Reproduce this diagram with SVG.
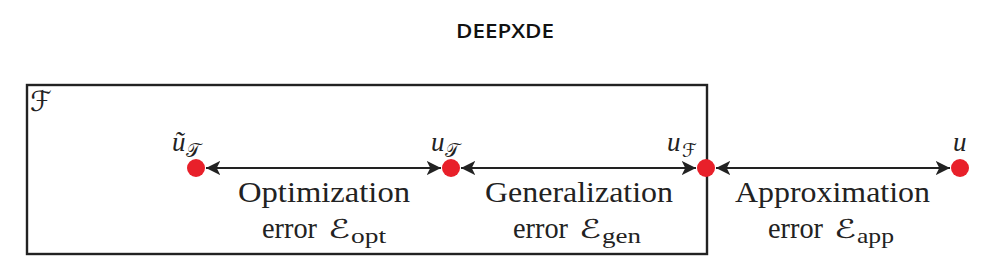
<svg xmlns="http://www.w3.org/2000/svg" width="1002" height="267" viewBox="0 0 1002 267">
<style>
.dot{fill:#e8202a}
.c{stroke:#222;stroke-width:2.2;fill:none;marker-start:url(#ah);marker-end:url(#ah)}
</style>
<defs>
<marker id="ah" viewBox="0 0 10 10" refX="10" refY="5" markerWidth="6.5" markerHeight="6.5" markerUnits="strokeWidth" orient="auto-start-reverse">
<path d="M0,0 L10,5 L0,10 L2.5,5 Z" fill="#222"/>
</marker>
</defs>
<rect width="1002" height="267" fill="#fff"/>
<text x="505" y="38" font-family="Open Sans" font-size="20" font-weight="600" fill="#111" textLength="98" lengthAdjust="spacingAndGlyphs" text-anchor="middle">DEEPXDE</text>
<g id="F">
<rect x="27" y="85" width="680" height="169" fill="none" stroke="#222" stroke-width="2.4"/>
<text x="30" y="111" font-family="DejaVu Sans" font-size="28" fill="#222">ℱ</text>
</g>
<g id="connectors">
<line class="c" x1="206" y1="168" x2="441" y2="168"/>
<line class="c" x1="461" y1="168" x2="696" y2="168"/>
<line class="c" x1="716" y1="168" x2="950" y2="168"/>
</g>
<g id="u_tilde_T" fill="#222">
<circle class="dot" cx="196" cy="168" r="9"/>
<text x="172" y="151" font-family="Liberation Serif" font-style="italic" font-size="27">ũ</text>
<text x="186" y="157" font-family="DejaVu Sans" font-size="19">𝒯</text>
</g>
<g id="u_T" fill="#222">
<circle class="dot" cx="451" cy="168" r="9"/>
<text x="431" y="151" font-family="Liberation Serif" font-style="italic" font-size="27">u</text>
<text x="445" y="157" font-family="DejaVu Sans" font-size="19">𝒯</text>
</g>
<g id="u_F" fill="#222">
<circle class="dot" cx="706" cy="168" r="9"/>
<text x="667" y="151" font-family="Liberation Serif" font-style="italic" font-size="27">u</text>
<text x="682" y="157" font-family="DejaVu Sans" font-size="19">ℱ</text>
</g>
<g id="u" fill="#222">
<circle class="dot" cx="960" cy="168" r="9"/>
<text x="953" y="151" font-family="Liberation Serif" font-style="italic" font-size="27">u</text>
</g>
<g id="labels" font-family="Liberation Serif" font-size="30" fill="#222">
<text x="238" y="202" textLength="172" lengthAdjust="spacingAndGlyphs">Optimization</text>
<text x="262" y="238" textLength="55" lengthAdjust="spacingAndGlyphs">error</text>
<text x="328" y="238" font-family="DejaVu Sans" font-size="26" textLength="22" lengthAdjust="spacingAndGlyphs">ℰ</text>
<text x="351" y="243" font-size="21" textLength="35" lengthAdjust="spacingAndGlyphs">opt</text>

<text x="485" y="202" textLength="188" lengthAdjust="spacingAndGlyphs">Generalization</text>
<text x="513" y="238" textLength="55" lengthAdjust="spacingAndGlyphs">error</text>
<text x="579" y="238" font-family="DejaVu Sans" font-size="26" textLength="22" lengthAdjust="spacingAndGlyphs">ℰ</text>
<text x="602" y="243" font-size="21" textLength="39" lengthAdjust="spacingAndGlyphs">gen</text>

<text x="735" y="202" textLength="195" lengthAdjust="spacingAndGlyphs">Approximation</text>
<text x="768" y="238" textLength="55" lengthAdjust="spacingAndGlyphs">error</text>
<text x="834" y="238" font-family="DejaVu Sans" font-size="26" textLength="22" lengthAdjust="spacingAndGlyphs">ℰ</text>
<text x="857" y="243" font-size="21" textLength="37" lengthAdjust="spacingAndGlyphs">app</text>
</g>
</svg>
